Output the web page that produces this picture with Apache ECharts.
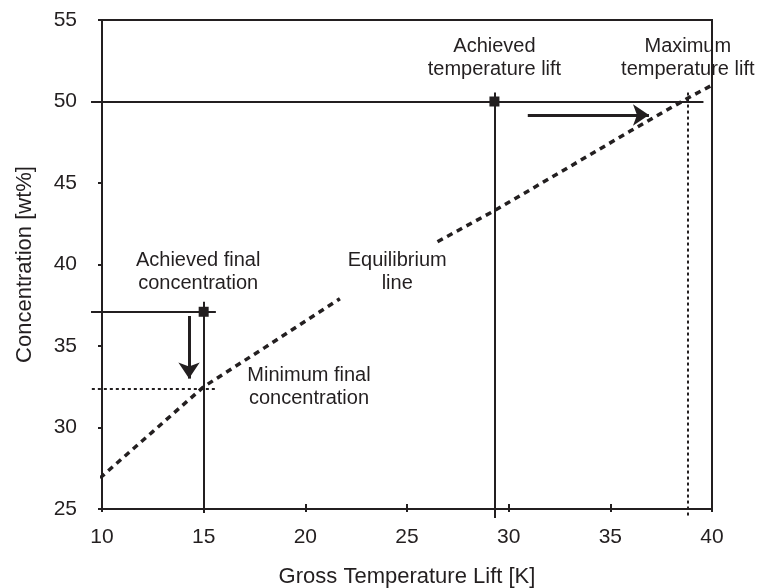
<!DOCTYPE html>
<html>
<head>
<meta charset="utf-8">
<script src="https://cdn.jsdelivr.net/npm/echarts@6/dist/echarts.min.js"></script>
<style>
html,body{margin:0;padding:0;background:#fff;}
#chart{width:758px;height:588px;}
</style>
</head>
<body>
<div id="chart"></div>
<script>
// ---- data ----
const xTickValues = [10, 15, 20, 25, 30, 35, 40];
const yTickValues = [25, 30, 35, 40, 45, 50, 55];
const xAxisName = 'Gross Temperature Lift [K]';
const yAxisName = 'Concentration [wt%]';

// equilibrium line (dashed), split where the label sits
const equilibriumLow = [[9.9, 26.9], [12.5, 29.75], [15, 32.5], [18, 34.9], [21.7, 37.9]];
const equilibriumHigh = [[26.5, 41.4], [29.3, 43.3], [33, 46.0], [36, 48.2], [38.8, 50.2], [40, 51.0]];

// achieved operating points (square markers)
const achievedPoints = [[15, 37.1], [29.3, 50]];

// solid reference lines
const solidLines = [
  [[9.46, 50], [39.58, 50]],
  [[29.3, 50.55], [29.3, 24.45]],
  [[9.46, 37.1], [15.6, 37.1]],
  [[15, 37.72], [15, 24.75]]
];
// dotted reference lines
const dottedLines = [
  [[9.5, 32.36], [15.64, 32.36]],
  [[38.8, 50.55], [38.8, 24.45]]
];
// arrows
const arrows = [
  [[30.94, 49.17], [36.9, 49.17]],
  [[14.28, 36.84], [14.28, 33.0]]
];
// annotation texts and their centres (data coordinates)
const annotationTexts = [
  'Achieved final\nconcentration',
  'Equilibrium\nline',
  'Minimum final\nconcentration',
  'Achieved\ntemperature lift',
  'Maximum\ntemperature lift'
];
const annotationPos = [[14.73, 39.57], [24.52, 39.54], [20.18, 32.47], [29.3, 52.68], [38.81, 52.68]];

// ---- chart ----
const ink = '#231f20';
const font = "'Liberation Sans', Arial, Helvetica, sans-serif";
const chart = echarts.init(document.getElementById('chart'), null, {renderer: 'canvas'});

const xMin = xTickValues[0], xMax = xTickValues[xTickValues.length - 1];
const yMin = yTickValues[0], yMax = yTickValues[yTickValues.length - 1];
const step = xTickValues[1] - xTickValues[0];
const ystep = yTickValues[1] - yTickValues[0];

const gridRect = {left: 102, right: 46, top: 20, bottom: 79};

const option = {
  backgroundColor: '#ffffff',
  animation: false,
  textStyle: {fontFamily: font},
  grid: [
    Object.assign({show: true, borderColor: ink, borderWidth: 2, backgroundColor: 'transparent', containLabel: false, outerBoundsMode: 'none'}, gridRect),
    Object.assign({show: false, containLabel: false, outerBoundsMode: 'none'}, gridRect)
  ],
  xAxis: [
    {
      type: 'value', gridIndex: 0, position: 'bottom',
      min: xMin, max: xMax, interval: step,
      name: xAxisName, nameLocation: 'middle', nameGap: 57,
      nameTextStyle: {fontSize: 22, color: ink, fontFamily: font},
      axisLine: {show: true, lineStyle: {color: ink, width: 2}},
      axisTick: {show: true, inside: false, length: 3, lineStyle: {color: ink, width: 2}},
      axisLabel: {fontSize: 21, color: ink, fontFamily: font, margin: 18},
      splitLine: {show: false}
    },
    {
      type: 'value', gridIndex: 1, position: 'bottom',
      min: xMin, max: xMax, interval: step,
      axisLine: {show: false},
      axisTick: {show: true, inside: true, length: 5, lineStyle: {color: ink, width: 2}},
      axisLabel: {show: false},
      splitLine: {show: false}
    }
  ],
  yAxis: [
    {
      type: 'value', gridIndex: 0, position: 'left',
      min: yMin, max: yMax, interval: ystep,
      name: yAxisName, nameLocation: 'middle', nameGap: 66,
      nameTextStyle: {fontSize: 22, color: ink, fontFamily: font},
      axisLine: {show: true, lineStyle: {color: ink, width: 2}},
      axisTick: {show: true, inside: false, length: 4, lineStyle: {color: ink, width: 2}},
      axisLabel: {fontSize: 21, color: ink, fontFamily: font, margin: 25},
      splitLine: {show: false}
    },
    {
      type: 'value', gridIndex: 1, min: yMin, max: yMax, interval: ystep, show: false
    }
  ],
  series: [
    {
      type: 'line', xAxisIndex: 0, yAxisIndex: 0, clip: false, silent: true,
      data: equilibriumLow.concat([[null, null]]).concat(equilibriumHigh),
      connectNulls: false, showSymbol: false, symbol: 'none',
      lineStyle: {color: ink, width: 3.5, type: [6, 5]}
    },
    {
      type: 'lines', coordinateSystem: 'cartesian2d', xAxisIndex: 0, yAxisIndex: 0, clip: false, silent: true,
      data: solidLines.map(c => ({coords: c})),
      lineStyle: {color: ink, width: 2, opacity: 1, curveness: 0}
    },
    {
      type: 'lines', coordinateSystem: 'cartesian2d', xAxisIndex: 0, yAxisIndex: 0, clip: false, silent: true,
      data: dottedLines.map(c => ({coords: c})),
      lineStyle: {color: ink, width: 2, opacity: 1, type: [3, 3], curveness: 0}
    },
    {
      type: 'lines', coordinateSystem: 'cartesian2d', xAxisIndex: 0, yAxisIndex: 0, clip: false, silent: true,
      symbol: ['none', 'arrow'], symbolSize: 16,
      data: arrows.map(c => ({coords: c})),
      lineStyle: {color: ink, width: 3, opacity: 1, curveness: 0},
      itemStyle: {color: ink, opacity: 1}
    },
    {
      type: 'scatter', xAxisIndex: 0, yAxisIndex: 0, clip: false, silent: true,
      symbol: 'rect', symbolSize: 10,
      itemStyle: {color: ink, opacity: 1},
      data: achievedPoints
    },
    {
      type: 'scatter', xAxisIndex: 0, yAxisIndex: 0, clip: false, silent: true,
      symbolSize: 0,
      itemStyle: {opacity: 1, color: ink},
      data: annotationPos.map((p, i) => ({value: p, name: annotationTexts[i]})),
      label: {
        show: true, position: 'inside', formatter: p => p.name,
        fontSize: 20, lineHeight: 23, color: ink, fontFamily: font,
        align: 'center', verticalAlign: 'middle', opacity: 1
      }
    }
  ]
};
chart.setOption(option);
</script>
</body>
</html>
